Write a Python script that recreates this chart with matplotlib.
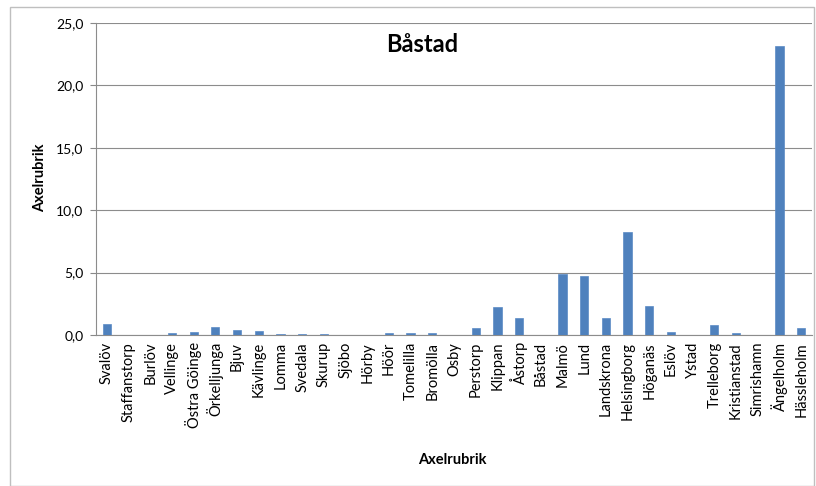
import matplotlib
matplotlib.use("Agg")
import matplotlib.pyplot as plt
from matplotlib.patches import Rectangle

categories = ["Svalöv", "Staffanstorp", "Burlöv", "Vellinge", "Östra Göinge", "Örkelljunga",
              "Bjuv", "Kävlinge", "Lomma", "Svedala", "Skurup", "Sjöbo", "Hörby", "Höör",
              "Tomelilla", "Bromölla", "Osby", "Perstorp", "Klippan", "Åstorp", "Båstad",
              "Malmö", "Lund", "Landskrona", "Helsingborg", "Höganäs", "Eslöv", "Ystad",
              "Trelleborg", "Kristianstad", "Simrishamn", "Ängelholm", "Hässleholm"]
values = [0.88, 0.0, 0.0, 0.16, 0.26, 0.66,
          0.40, 0.33, 0.10, 0.10, 0.10, 0.03, 0.0, 0.14,
          0.14, 0.14, 0.03, 0.54, 2.27, 1.36, 0.0,
          4.89, 4.70, 1.36, 8.27, 2.32, 0.24, 0.03,
          0.78, 0.19, 0.0, 23.16, 0.59]
yticks = [0, 5, 10, 15, 20, 25]
ytick_labels = ["0,0", "5,0", "10,0", "15,0", "20,0", "25,0"]
title = "Båstad"
axis_title = "Axelrubrik"

plt.rcParams['font.family'] = ['Lato', 'DejaVu Sans']

W, H = 816, 486
fig = plt.figure(figsize=(W / 100, H / 100), dpi=100)
fig.patches.append(Rectangle((10 / W, 0), (814 - 10) / W, (486 - 7) / H,
                             transform=fig.transFigure, fill=False,
                             edgecolor="#BFBFBF", linewidth=1.0))

left, right, top, bottom = 96, 812, 23, 335
ax = fig.add_axes([left / W, 1 - bottom / H, (right - left) / W, (bottom - top) / H])

x = range(len(categories))
ax.bar(x, values, width=0.38, color="#4F81BD", edgecolor="#5B8BC6", linewidth=0.5, zorder=3)

ax.set_xlim(-0.5, len(categories) - 0.5)
ax.set_ylim(0, 25)
ax.set_yticks(yticks)
ax.set_yticklabels(ytick_labels, fontsize=10)
ax.set_xticks(list(x))
ax.set_xticklabels(categories, rotation=90, fontsize=10.5)
ax.tick_params(axis='x', length=0, pad=5)
ax.tick_params(axis='y', length=4, color="#888888", pad=5)
ax.grid(axis='y', color="#8C8C8C", linewidth=0.8, zorder=0)

for s in ["top", "right"]:
    ax.spines[s].set_visible(False)
ax.spines["left"].set_color("#8C8C8C")
ax.spines["bottom"].set_color("#8C8C8C")

fig.text(422 / W, 1 - 45 / H, title, ha="center", va="center",
         fontsize=17, fontweight="bold")

fig.text(40 / W, 1 - 178 / H, axis_title, rotation=90, ha="center", va="center",
         fontsize=10.5, fontweight="bold")
fig.text(452 / W, 1 - 460 / H, axis_title, ha="center", va="center",
         fontsize=10.5, fontweight="bold")

fig.savefig("out.png", dpi=100)
